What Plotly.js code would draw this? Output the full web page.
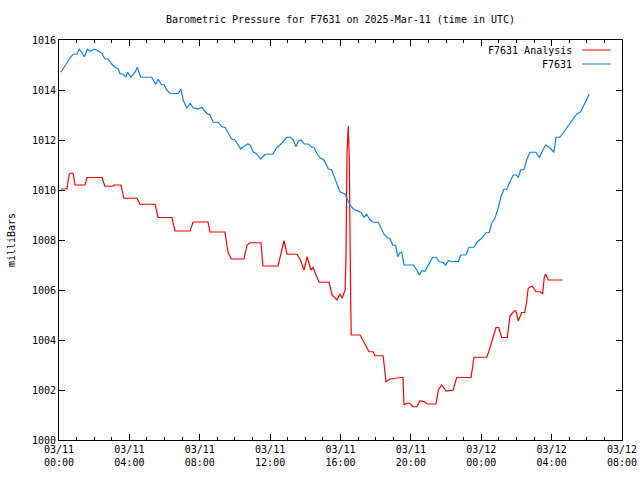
<!DOCTYPE html>
<html><head><meta charset="utf-8">
<script src="https://cdn.plot.ly/plotly-3.0.1.min.js"></script>
<style>html,body{margin:0;padding:0;background:#fff}#chart{width:640px;height:480px}</style>
</head><body><div id="chart"></div>
<script>
// hours since 2025-03-11 00:00 UTC
const analysisHours = [0.11,0.45,0.57,0.63,0.80,0.91,1.48,1.59,2.44,2.61,3.07,3.13,3.52,3.69,4.43,4.60,5.46,5.63,6.42,6.59,7.45,7.62,8.47,8.58,9.43,9.61,9.78,10.51,10.69,10.86,11.48,11.59,12.45,12.67,12.79,12.96,13.53,13.70,13.93,14.10,14.32,14.44,14.78,15.35,15.52,15.80,15.97,16.09,16.26,16.31,16.37,16.44,16.50,16.58,16.61,17.11,17.17,17.62,17.85,17.96,18.42,18.59,18.81,19.44,19.55,19.61,19.76,19.95,20.12,20.33,20.52,20.80,20.93,21.43,21.56,21.75,22.00,22.41,22.60,23.42,23.59,24.31,24.46,24.68,24.84,24.99,25.16,25.48,25.63,25.88,25.97,26.11,26.30,26.47,26.58,26.67,26.90,27.11,27.34,27.49,27.58,27.66,27.81,28.61];
const analysisValues = [1010.04,1010.04,1010.6,1010.67,1010.67,1010.2,1010.2,1010.5,1010.5,1010.15,1010.15,1010.2,1010.2,1009.67,1009.67,1009.43,1009.43,1008.9,1008.9,1008.36,1008.36,1008.72,1008.72,1008.32,1008.32,1007.5,1007.24,1007.24,1007.8,1007.89,1007.89,1006.96,1006.96,1007.6,1007.97,1007.43,1007.43,1007.23,1006.8,1007.33,1006.8,1006.9,1006.31,1006.31,1005.8,1005.6,1005.84,1005.67,1006.0,1007.2,1011.48,1012.56,1011.2,1005.53,1004.2,1004.2,1004.13,1003.53,1003.53,1003.37,1003.37,1002.33,1002.44,1002.5,1002.5,1001.4,1001.47,1001.47,1001.33,1001.33,1001.57,1001.52,1001.44,1001.44,1002.0,1002.2,1001.96,1002.0,1002.5,1002.5,1003.31,1003.31,1003.6,1004.13,1004.5,1004.5,1004.1,1004.1,1004.96,1005.17,1005.17,1004.77,1005.1,1005.1,1005.53,1006.07,1006.16,1005.93,1005.93,1005.84,1006.5,1006.63,1006.4,1006.4];

const stationHours = [0.11,0.63,0.81,1.01,1.15,1.29,1.44,1.61,1.76,2.01,2.14,2.43,2.61,2.80,3.00,3.18,3.37,3.47,3.65,3.79,3.90,4.09,4.32,4.45,4.64,5.27,5.50,5.64,5.80,5.98,6.12,6.31,6.54,6.78,6.93,7.06,7.26,7.45,7.63,7.92,8.11,8.39,8.58,8.77,9.05,9.25,9.44,9.62,9.82,10.00,10.33,10.48,10.73,10.86,11.04,11.24,11.46,11.71,12.15,12.37,12.66,12.94,13.17,13.32,13.47,13.60,13.75,13.94,14.17,14.36,14.49,14.65,14.83,15.06,15.31,15.50,15.69,15.87,15.97,16.26,16.41,16.54,16.73,17.01,17.17,17.34,17.49,17.68,17.86,18.15,18.28,18.47,18.66,18.81,18.97,19.14,19.25,19.38,19.48,19.61,20.14,20.31,20.48,20.62,20.80,20.99,21.24,21.43,21.62,21.84,21.97,22.13,22.32,22.51,22.70,22.83,23.13,23.30,23.59,23.78,24.03,24.27,24.46,24.59,24.78,24.93,25.12,25.29,25.45,25.63,25.82,25.97,26.11,26.24,26.43,26.58,26.77,27.11,27.30,27.49,27.66,27.87,28.13,28.25,28.47,28.66,28.95,29.23,29.43,29.65,29.90,30.14];
const stationValues = [1014.71,1015.29,1015.43,1015.43,1015.63,1015.51,1015.33,1015.63,1015.55,1015.63,1015.6,1015.47,1015.24,1015.24,1015.04,1014.91,1014.84,1014.64,1014.64,1014.51,1014.71,1014.51,1014.71,1014.91,1014.51,1014.51,1014.23,1014.43,1014.23,1014.2,1014.0,1013.87,1013.85,1013.87,1014.03,1013.6,1013.27,1013.47,1013.29,1013.24,1013.31,1013.07,1013.0,1012.71,1012.71,1012.53,1012.5,1012.27,1012.03,1012.0,1011.64,1011.73,1011.84,1011.8,1011.53,1011.44,1011.24,1011.43,1011.43,1011.69,1011.87,1012.11,1012.11,1012.0,1011.73,1011.96,1012.0,1011.84,1011.84,1011.71,1011.71,1011.47,1011.29,1011.2,1010.84,1010.8,1010.43,1010.16,1009.93,1009.84,1009.63,1009.4,1009.24,1009.13,1009.1,1008.91,1009.03,1008.8,1008.71,1008.71,1008.49,1008.23,1008.09,1008.05,1007.8,1007.78,1007.33,1007.49,1007.51,1007.0,1007.0,1006.83,1006.6,1006.77,1006.75,1007.0,1007.31,1007.31,1007.13,1007.1,1007.0,1007.17,1007.13,1007.15,1007.13,1007.4,1007.4,1007.71,1007.71,1007.93,1008.07,1008.29,1008.3,1008.67,1008.87,1009.2,1009.73,1010.03,1010.03,1010.33,1010.6,1010.6,1010.51,1010.8,1010.82,1011.2,1011.51,1011.51,1011.31,1011.57,1011.8,1011.71,1011.51,1012.11,1012.11,1012.29,1012.56,1012.83,1013.04,1013.13,1013.49,1013.84];

const seriesNames = ["F7631 Analysis", "F7631"];
const seriesColors = ["#ff0000", "#0a84f5"];
const titleText = "Barometric Pressure for F7631 on 2025-Mar-11 (time in UTC)";
const yTitle = "milliBars";

const t0 = Date.UTC(2025, 2, 11, 0, 0, 0);
const toDate = h => t0 + h * 3600000;
const font = "DejaVu Sans Mono, monospace";

const traces = [
  {x: analysisHours.map(toDate), y: analysisValues, type: "scatter", mode: "lines",
   line: {color: seriesColors[0], width: 1.2}, name: seriesNames[0], showlegend: false},
  {x: stationHours.map(toDate), y: stationValues, type: "scatter", mode: "lines",
   line: {color: seriesColors[1], width: 1.2}, name: seriesNames[1], showlegend: false}
];

const layout = {
  width: 640, height: 480,
  margin: {l: 59, r: 18, t: 40, b: 40},
  paper_bgcolor: "#fff", plot_bgcolor: "#fff",
  font: {family: font, size: 10, color: "#000"},
  title: {text: titleText, x: 0.532, xanchor: "center", y: 0.96, yanchor: "middle",
          font: {family: font, size: 10, color: "#000"}},
  showlegend: false,
  xaxis: {
    type: "date", range: [t0, toDate(32)], showgrid: false, zeroline: false,
    showline: true, linecolor: "#000", linewidth: 1, mirror: "allticks",
    ticks: "inside", ticklen: 6, tickcolor: "#000",
    dtick: 4 * 3600000, tick0: t0, tickformat: "%m/%d<br>%H:%M",
    tickfont: {family: font, size: 10},
    minor: {dtick: 3600000, ticks: "inside", ticklen: 3, tickcolor: "#000", showgrid: false}
  },
  yaxis: {
    range: [1000, 1016], showgrid: false, zeroline: false,
    showline: true, linecolor: "#000", linewidth: 1, mirror: "allticks",
    ticks: "inside", ticklen: 6, tickcolor: "#000", dtick: 2, tick0: 1000,
    tickfont: {family: font, size: 10},
    title: {text: yTitle, font: {family: font, size: 10}, standoff: 14}
  },
  annotations: [
    {xref: "paper", yref: "paper", x: 0.915, y: 0.975, xanchor: "right", yanchor: "middle",
     text: seriesNames[0], showarrow: false, font: {family: font, size: 10}},
    {xref: "paper", yref: "paper", x: 0.915, y: 0.94, xanchor: "right", yanchor: "middle",
     text: seriesNames[1], showarrow: false, font: {family: font, size: 10}}
  ],
  shapes: [
    {type: "line", xref: "paper", yref: "paper", x0: 0.929, x1: 0.98, y0: 0.975, y1: 0.975,
     line: {color: seriesColors[0], width: 1}},
    {type: "line", xref: "paper", yref: "paper", x0: 0.929, x1: 0.98, y0: 0.94, y1: 0.94,
     line: {color: seriesColors[1], width: 1}}
  ]
};

Plotly.newPlot("chart", traces, layout, {staticPlot: true, displayModeBar: false});
</script>
</body></html>
